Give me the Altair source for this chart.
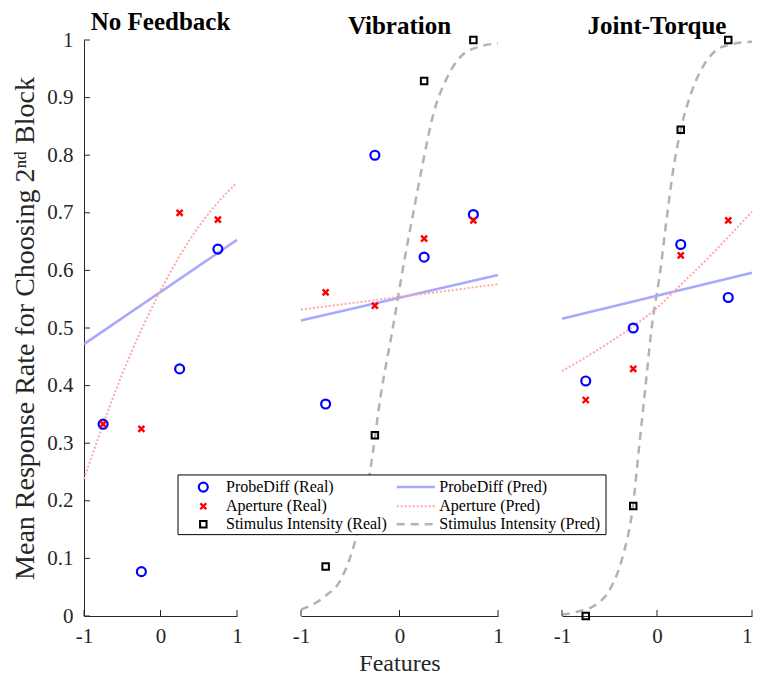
import altair as alt
import pandas as pd

# ---------------- data ----------------
panels = ["No Feedback", "Vibration", "Joint-Torque"]
features = [-0.75, -0.25, 0.25, 0.75]

probe_real = {
    "No Feedback": [0.333, 0.077, 0.429, 0.637],
    "Vibration": [0.368, 0.800, 0.623, 0.697],
    "Joint-Torque": [0.408, 0.500, 0.645, 0.553],
}
aperture_real = {
    "No Feedback": [0.333, 0.325, 0.700, 0.688],
    "Vibration": [0.562, 0.539, 0.655, 0.687],
    "Joint-Torque": [0.375, 0.429, 0.626, 0.687],
}
stim_real = {
    "Vibration": [0.086, 0.314, 0.929, 1.000],
    "Joint-Torque": [0.000, 0.191, 0.844, 1.000],
}

probe_pred_x = [-1.0, 1.0]
probe_pred = {
    "No Feedback": [0.472, 0.653],
    "Vibration": [0.513, 0.592],
    "Joint-Torque": [0.516, 0.596],
}

aperture_pred_x = {
    "No Feedback": [-1.0, -0.75, -0.5, -0.25, 0.0, 0.25, 0.5, 0.75, 1.0],
    "Vibration": [-1.0, 0.0, 1.0],
    "Joint-Torque": [-1.0, -0.5, -0.25, 0.0, 0.25, 0.5, 0.75, 1.0],
}
aperture_pred = {
    "No Feedback": [0.238, 0.333, 0.420, 0.497, 0.565, 0.625, 0.676, 0.718, 0.752],
    "Vibration": [0.532, 0.554, 0.576],
    "Joint-Torque": [0.425, 0.475, 0.503, 0.535, 0.575, 0.615, 0.658, 0.702],
}

stim_pred_x = {
    "Vibration": [-1.0, -0.75, -0.6, -0.45, -0.3, -0.185, -0.073, 0.05, 0.14,
                  0.24, 0.34, 0.475, 0.61, 0.8, 1.0],
    "Joint-Torque": [-1.0, -0.827, -0.66, -0.493, -0.36, -0.253, -0.193, -0.127,
                     -0.06, 0.04, 0.107, 0.173, 0.25, 0.373, 0.507, 0.607, 0.74, 1.0],
}
stim_pred = {
    "Vibration": [0.011, 0.035, 0.062, 0.130, 0.250, 0.389, 0.495, 0.618, 0.700,
                  0.789, 0.869, 0.932, 0.969, 0.988, 0.994],
    "Joint-Torque": [0.002, 0.008, 0.018, 0.047, 0.104, 0.191, 0.286, 0.389,
                     0.495, 0.606, 0.697, 0.777, 0.844, 0.914, 0.960, 0.980, 0.991, 0.997],
}

y_ticks = [0, 0.1, 0.2, 0.3, 0.4, 0.5, 0.6, 0.7, 0.8, 0.9, 1]
x_ticks = [-1, 0, 1]

legend_labels = [
    "ProbeDiff (Real)", "Aperture (Real)", "Stimulus Intensity (Real)",
    "ProbeDiff (Pred)", "Aperture (Pred)", "Stimulus Intensity (Pred)",
]

# ---------------- styling ----------------
FONT = "Liberation Serif"
AX = "#262626"
H = 576
SP = 64
widths = {"No Feedback": 153, "Vibration": 197, "Joint-Torque": 190}

circle_style = dict(shape="circle", filled=False, color="#0000ff", size=80, strokeWidth=2.2, opacity=1)
cross_style = dict(shape="M-1,-1L1,1M1,-1L-1,1", filled=False, color="#ff0000", size=36, strokeWidth=2.4, opacity=1)
square_style = dict(shape="square", filled=False, color="#000000", size=42, strokeWidth=2, opacity=1)
probe_line = dict(color="#a8a8ff", strokeWidth=2.5)
ap_line = dict(color="#ffa8a8", strokeWidth=2, strokeDash=[2, 2])
si_line = dict(color="#b3b3b3", strokeWidth=2.5, strokeDash=[8, 6])


def enc_x(show_title, last):
    align = {"condition": {"test": "datum.value == 1", "value": "right"}, "value": "center"} if last else "center"
    return alt.X(
        "x:Q",
        scale=alt.Scale(domain=[-1, 1], nice=False, zero=False),
        axis=alt.Axis(
            values=x_ticks, labelExpr="'' + datum.value", ticks=False, grid=False,
            labelPadding=9, labelFont=FONT, labelFontSize=21, labelColor=AX,
            labelAlign=align,
            domainColor=AX, domainWidth=1, titleFont=FONT, titleFontSize=24,
            titleFontWeight="normal", titleColor=AX, titlePadding=5,
        ),
        title="Features" if show_title else None,
    )


def enc_y(show_axis):
    if show_axis:
        ax = alt.Axis(
            values=y_ticks, labelExpr="'' + datum.value", ticks=False, grid=False,
            labelPadding=11, labelFont=FONT, labelFontSize=21, labelColor=AX,
            domainColor=AX, domainWidth=1, titleFont=FONT, titleFontSize=28,
            titleFontWeight="normal", titleColor=AX, titlePadding=7,
        )
        return alt.Y("y:Q", scale=alt.Scale(domain=[0, 1], nice=False, zero=False),
                     axis=ax, title="Mean Response Rate for Choosing 2ⁿᵈ Block")
    return alt.Y("y:Q", scale=alt.Scale(domain=[0, 1], nice=False, zero=False), axis=None)


dummy = pd.DataFrame({"d": [0]})
k = H / 584.0
P3 = 84 + widths["No Feedback"] + SP + widths["Vibration"] + SP  # page x of panel 3


def make_panel(name):
    first = name == panels[0]
    ex = enc_x(name == panels[1], name == panels[2])
    ey = enc_y(first)
    layers = []

    def line(xv, yv, style):
        df = pd.DataFrame({"x": xv, "y": yv})
        return alt.Chart(df).mark_line(interpolate="monotone", **style).encode(x=ex, y=ey)

    def pts(yv, style):
        df = pd.DataFrame({"x": features, "y": yv})
        return alt.Chart(df).mark_point(**style).encode(x=ex, y=ey)

    layers.append(line(probe_pred_x, probe_pred[name], probe_line))
    layers.append(line(aperture_pred_x[name], aperture_pred[name], ap_line))
    if name in stim_pred:
        layers.append(line(stim_pred_x[name], stim_pred[name], si_line))
    layers.append(pts(probe_real[name], circle_style))
    layers.append(pts(aperture_real[name], cross_style))
    if name in stim_real:
        layers.append(pts(stim_real[name], square_style))

    # inward ticks (MATLAB style)
    xt = pd.DataFrame({"x": x_ticks})
    layers.append(alt.Chart(xt).mark_rule(color=AX, strokeWidth=1).encode(
        x=ex, y=alt.value(H), y2=alt.value(H - 6)))
    if first:
        yt = pd.DataFrame({"y": y_ticks})
        layers.append(alt.Chart(yt).mark_rule(color=AX, strokeWidth=1).encode(
            y=ey, x=alt.value(0), x2=alt.value(6)))

    if name == panels[2]:
        # legend box drawn on top of all panels (page coords relative to panel 3)
        bx0, bx1, by0, by1 = 178 - P3, 606 - P3, 441 * k, 501.5 * k
        layers.append(alt.Chart(dummy).mark_rect(fill="white", stroke="black", strokeWidth=1).encode(
            x=alt.value(bx0), x2=alt.value(bx1), y=alt.value(by0), y2=alt.value(by1)))
        rows = [453.3 * k, 472.7 * k, 491.0 * k]
        sym_styles = [circle_style, cross_style, square_style]
        line_styles = [probe_line, ap_line, si_line]
        for i in range(3):
            layers.append(alt.Chart(dummy).mark_point(**sym_styles[i]).encode(
                x=alt.value(203.3 - P3), y=alt.value(rows[i])))
            layers.append(alt.Chart(dummy).mark_text(
                align="left", baseline="middle", font=FONT, fontSize=16, color="black").encode(
                x=alt.value(226 - P3), y=alt.value(rows[i]), text=alt.value(legend_labels[i])))
            layers.append(alt.Chart(dummy).mark_rule(**line_styles[i]).encode(
                x=alt.value(396.7 - P3), x2=alt.value(435 - P3), y=alt.value(rows[i])))
            layers.append(alt.Chart(dummy).mark_text(
                align="left", baseline="middle", font=FONT, fontSize=16, color="black").encode(
                x=alt.value(439.3 - P3), y=alt.value(rows[i]), text=alt.value(legend_labels[i + 3])))

    return alt.layer(*layers).properties(
        width=widths[name], height=H,
        title=alt.TitleParams(name, font=FONT, fontSize=25, fontWeight="bold",
                              anchor="middle", offset=-6, color="black"),
    )


chart = alt.hconcat(*[make_panel(p) for p in panels], spacing=SP, bounds="flush").properties(
    padding={"left": 3, "top": 2, "right": 0, "bottom": 0}
).configure_view(stroke=None)

chart.save("out.html", embed_options={"renderer": "svg", "actions": False})
